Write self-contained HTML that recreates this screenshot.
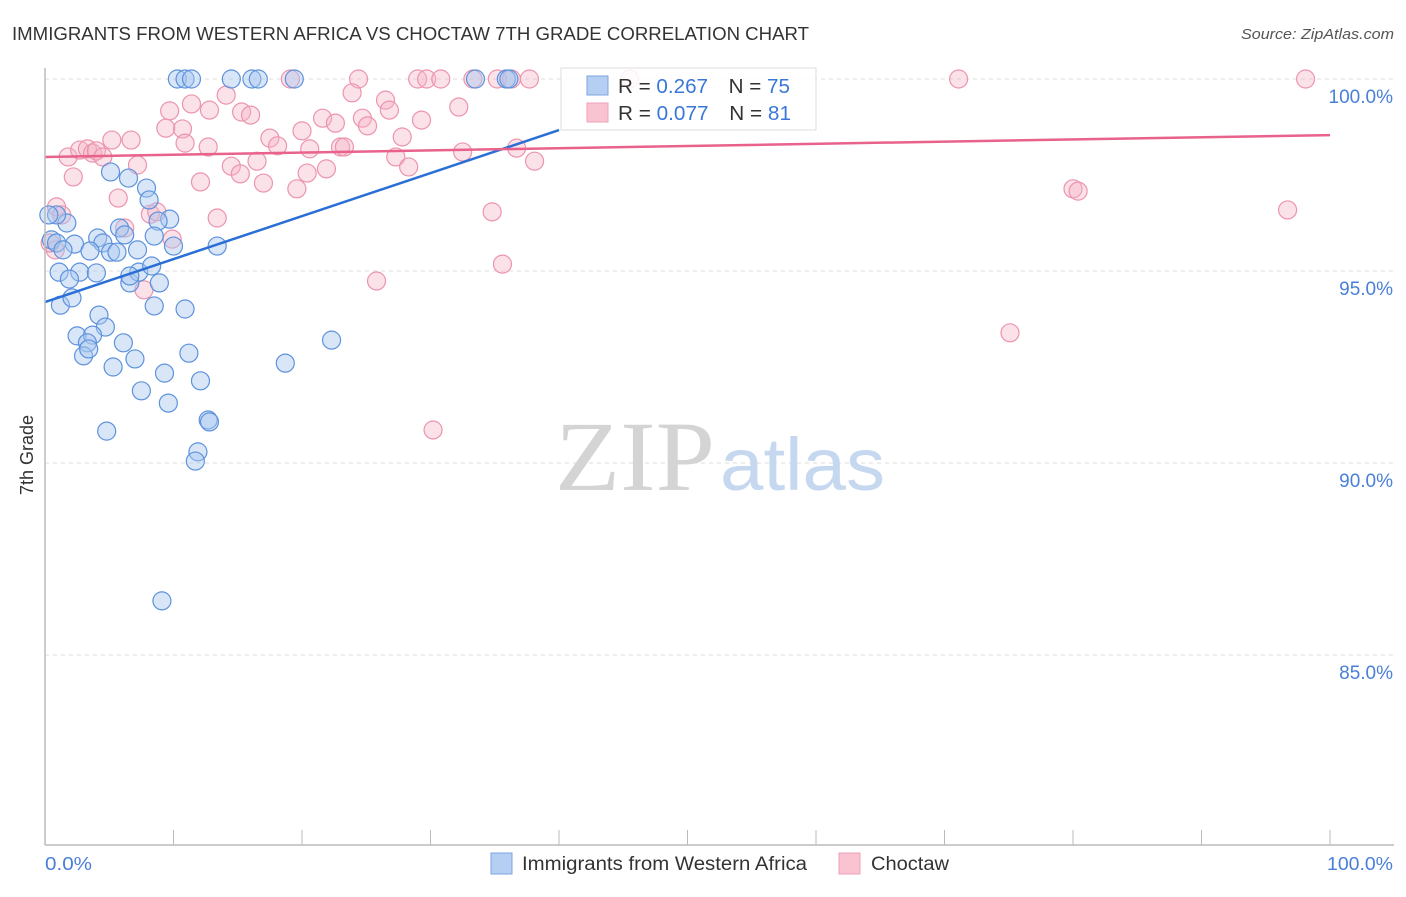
<!DOCTYPE html>
<html><head><meta charset="utf-8"><style>
body{margin:0;background:#fff;font-family:"Liberation Sans",sans-serif;}
svg text{font-family:"Liberation Sans",sans-serif;}
</style></head><body>
<svg id="chart" width="1406" height="892" viewBox="0 0 1406 892" xmlns="http://www.w3.org/2000/svg">
<text x="12" y="40" font-size="18" fill="#333" textLength="797" lengthAdjust="spacingAndGlyphs">IMMIGRANTS FROM WESTERN AFRICA VS CHOCTAW 7TH GRADE CORRELATION CHART</text>
<text x="1241" y="39" font-size="15" fill="#555" font-style="italic" textLength="153" lengthAdjust="spacingAndGlyphs">Source: ZipAtlas.com</text>
<g id="grid"></g>
<text x="555" y="490" font-size="100"><tspan fill="#d4d4d4" font-family="Liberation Serif" textLength="160" lengthAdjust="spacingAndGlyphs">ZIP</tspan><tspan fill="#c5d8f0" font-size="74" x="720" textLength="165" lengthAdjust="spacingAndGlyphs">atlas</tspan></text>
<g id="ticks"></g>
<g id="pts"></g>
<g id="trends"></g>
<line x1="45" y1="68" x2="45" y2="845" stroke="#bbb" stroke-width="1.5"/>
<line x1="45" y1="845" x2="1394" y2="845" stroke="#bbb" stroke-width="1.5"/>
<g id="xticks"></g>
<text transform="translate(33,455) rotate(-90)" font-size="18" fill="#333" text-anchor="middle">7th Grade</text>
<text x="45" y="870" font-size="18" fill="#4a7fd8" textLength="47" lengthAdjust="spacingAndGlyphs">0.0%</text>
<text x="1327" y="870" font-size="18" fill="#4a7fd8" textLength="66" lengthAdjust="spacingAndGlyphs">100.0%</text>
<g>
<rect x="561" y="68" width="255" height="62" fill="#fff" fill-opacity="0.85" stroke="#ddd"/>
<rect x="587" y="76" width="21" height="19" fill="#b5cff2" stroke="#7aa5e0"/>
<rect x="587" y="103" width="21" height="19" fill="#fac3d2" stroke="#eea2b8"/>
<text x="618" y="93" font-size="20" fill="#333" textLength="172" lengthAdjust="spacingAndGlyphs">R = <tspan fill="#3a78d8">0.267</tspan><tspan dx="20">N = </tspan><tspan fill="#3a78d8">75</tspan></text>
<text x="618" y="120" font-size="20" fill="#333" textLength="173" lengthAdjust="spacingAndGlyphs">R = <tspan fill="#3a78d8">0.077</tspan><tspan dx="20">N = </tspan><tspan fill="#3a78d8"> 81</tspan></text>
</g>
<g>
<rect x="491" y="853" width="21" height="21" fill="#b5cff2" stroke="#7aa5e0"/>
<text x="522" y="870" font-size="19" fill="#333" textLength="285" lengthAdjust="spacingAndGlyphs">Immigrants from Western Africa</text>
<rect x="839" y="853" width="21" height="21" fill="#fac3d2" stroke="#eea2b8"/>
<text x="871" y="870" font-size="19" fill="#333" textLength="78" lengthAdjust="spacingAndGlyphs">Choctaw</text>
</g>
</svg>
<script>
const blueX=[10.3,10.9,11.4,14.5,16.1,16.6,19.4,33.5,35.9,36.1,5.1,6.5,7.9,8.1,9.7,8.8,1.7,0.9,0.3,0.5,0.9,2.3,1.4,4.1,4.5,5.8,6.2,5.1,5.6,7.2,8.5,10.0,13.4,3.5,1.1,2.7,4.0,1.9,6.6,7.3,8.3,8.9,6.6,1.2,2.1,8.5,10.9,4.2,4.7,2.5,3.7,3.3,3.0,3.4,6.1,7.0,5.3,9.3,12.1,7.5,9.6,18.7,22.3,4.8,12.7,12.8,11.9,11.7,9.1,11.2];
const blueY=[100,100,100,100,100,100,100,100,100,100,97.58,97.42,97.16,96.85,96.35,96.30,96.25,96.46,96.46,95.81,95.73,95.70,95.55,95.86,95.73,96.12,95.94,95.49,95.49,95.55,95.91,95.65,95.65,95.52,94.97,94.97,94.95,94.79,94.69,94.97,95.13,94.69,94.87,94.11,94.30,94.09,94.01,93.85,93.54,93.31,93.33,93.13,92.79,92.97,93.13,92.71,92.50,92.34,92.14,91.88,91.56,92.60,93.20,90.83,91.12,91.07,90.29,90.05,86.41,92.86];
const pinkX=[19.1,24.4,29.0,29.7,30.8,33.3,35.2,36.3,37.7,45.5,71.1,98.1,1.8,2.7,3.3,3.7,4.0,4.5,2.2,6.7,5.2,9.4,9.7,10.7,10.9,11.4,12.8,12.7,12.1,7.2,5.7,14.1,15.3,16.0,14.5,15.2,16.5,17.0,17.5,18.1,19.6,20.0,20.4,20.6,21.6,21.9,22.6,23.0,23.3,23.9,24.7,25.1,26.5,26.8,27.8,27.3,28.3,29.3,32.2,32.5,36.7,38.1,0.9,1.3,0.8,0.4,8.2,8.7,6.2,9.9,7.7,13.4,25.8,30.2,34.8,35.6,80.0,80.4,96.7,75.1];
const pinkY=[100,100,100,100,100,100,100,100,100,100,100,100,97.97,98.15,98.18,98.07,98.13,97.97,97.45,98.41,98.41,98.72,99.17,98.70,98.33,99.35,99.19,98.23,97.32,97.76,96.90,99.58,99.14,99.06,97.73,97.53,97.86,97.29,98.46,98.26,97.14,98.65,97.55,98.18,98.98,97.66,98.85,98.23,98.23,99.64,98.98,98.78,99.45,99.19,98.49,97.97,97.71,98.93,99.27,98.10,98.20,97.86,96.67,96.46,95.55,95.73,96.48,96.54,96.12,95.83,94.51,96.38,94.74,90.86,96.54,95.18,97.14,97.08,96.59,93.39];
const yTicks=[100,95,90,85];
const yTickLabels=["100.0%","95.0%","90.0%","85.0%"];
const blueTrend=[[0,94.19],[40,98.67]];
const pinkTrend=[[0,97.97],[100,98.54]];
const NS="http://www.w3.org/2000/svg";
const sx=v=>45+v*12.85, sy=v=>79+(100-v)*38.4;
function mk(tag,attrs,parent){const e=document.createElementNS(NS,tag);for(const k in attrs)e.setAttribute(k,attrs[k]);parent.appendChild(e);return e;}
const grid=document.getElementById('grid'),ticks=document.getElementById('ticks');
yTicks.forEach((t,i)=>{
 const l=mk('line',{x1:45,x2:1394,y1:sy(t),y2:sy(t),stroke:'#ddd','stroke-dasharray':'4,4'},grid);
 
 
 const tx=mk('text',{x:1393,y:sy(t)+24,'font-size':19,fill:'#4a7fd8','text-anchor':'end'},ticks);
 tx.textContent=yTickLabels[i];
 
 
});
const xt=document.getElementById('xticks');
for(let i=0;i<=10;i++){const l=mk('line',{x1:sx(i*10),x2:sx(i*10),y1:830,y2:845,stroke:'#bbb'},xt);
 
 }
const pts=document.getElementById('pts');
pinkX.forEach((x,i)=>{const c=mk('circle',{cx:sx(x),cy:sy(pinkY[i]),r:9,fill:'#f5b3c6','fill-opacity':0.4,stroke:'#ec94ae','stroke-width':1.2},pts);
 
 });
blueX.forEach((x,i)=>{const c=mk('circle',{cx:sx(x),cy:sy(blueY[i]),r:9,fill:'#a9c8f0','fill-opacity':0.45,stroke:'#5d92dc','stroke-width':1.2},pts);
 
 });
const tr=document.getElementById('trends');
const bl=mk('line',{x1:sx(blueTrend[0][0]),y1:sy(blueTrend[0][1]),x2:sx(blueTrend[1][0]),y2:sy(blueTrend[1][1]),stroke:'#2a6fd6','stroke-width':2.5},tr);


const pl=mk('line',{x1:sx(pinkTrend[0][0]),y1:sy(pinkTrend[0][1]),x2:sx(pinkTrend[1][0]),y2:sy(pinkTrend[1][1]),stroke:'#e8628c','stroke-width':2.5},tr);


</script>
</body></html>
